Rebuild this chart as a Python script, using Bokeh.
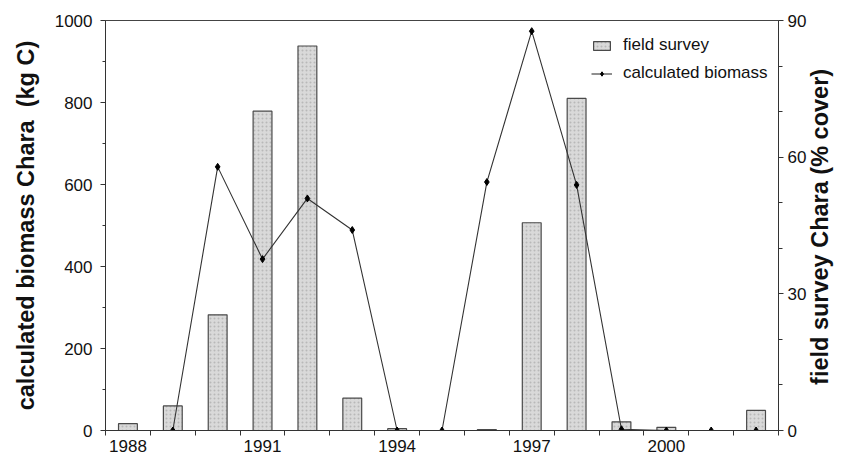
import math
import numpy as np
from bokeh.plotting import figure
from bokeh.models import (Range1d, LinearAxis, FixedTicker, Legend, LegendItem,
                          ColumnDataSource)
from bokeh.embed import file_html
from bokeh.resources import INLINE

# ---- data ----
years = [1988, 1989, 1990, 1991, 1992, 1993, 1994, 1995, 1996, 1997, 1998, 1999, 2000, 2001, 2002]
field_survey = [1.5, 5.4, 25.4, 70.1, 84.4, 7.1, 0.4, 0.0, 0.2, 45.6, 72.9, 1.9, 0.7, 0.0, 4.4]
biomass = [np.nan, 0, 643, 418, 566, 489, 0, 0, 606, 974, 599, 3, 0, 0, 0]

x_label_years = [1988, 1991, 1994, 1997, 2000]
left_ticks = [0, 200, 400, 600, 800, 1000]
left_minor = [100, 300, 500, 700, 900]
right_ticks = [0, 30, 60, 90]
right_minor = [10, 20, 40, 50, 70, 80]
left_title = "calculated biomass Chara \u00a0(kg C)"
right_title = "field survey Chara (% cover)"

FONT = "Liberation Sans"
INK = "#111111"
TITLE_SIZE = "23.5px"

X0, X1 = 1987.5, 2002.5
FRAME_L, FRAME_R = 105, 782

src_bar = ColumnDataSource(dict(x=years, top=field_survey))
src_line = ColumnDataSource(dict(x=np.array(years, dtype=float), y=np.array(biomass, dtype=float)))

p = figure(width=849, height=455, output_backend="svg", toolbar_location=None,
           x_range=Range1d(X0, X1), y_range=Range1d(0, 1000),
           min_border_left=FRAME_L, min_border_right=849 - FRAME_R,
           min_border_top=20, min_border_bottom=25)
p.extra_y_ranges = {"cover": Range1d(0, 90)}
p.xgrid.visible = False
p.ygrid.visible = False
p.outline_line_color = "#444444"
p.outline_line_width = 1
p.background_fill_color = "white"
p.border_fill_color = "white"

bars = p.vbar(x="x", top="top", bottom=0, width=0.42, source=src_bar, y_range_name="cover",
              fill_color="#d9d9d9", line_color="#4a4a4a", line_width=1.2,
              hatch_pattern="dot", hatch_color="#b8b8b8", hatch_scale=4, hatch_weight=0.8)
line = p.line(x="x", y="y", source=src_line, line_color="#333333", line_width=1.1)
pts = p.scatter(x="x", y="y", source=src_line, marker="diamond", size=7,
                fill_color="black", line_color="black")

# bottom axis
xa = p.xaxis[0]
xa.ticker = FixedTicker(ticks=x_label_years, minor_ticks=[X0 + i for i in range(16)])
xa.major_tick_out = 0
xa.major_tick_in = 0
xa.minor_tick_out = 5
xa.minor_tick_in = 0
xa.major_label_standoff = 4
xa.major_label_text_font = FONT
xa.major_label_text_font_size = "17px"
xa.major_label_text_color = INK
xa.axis_line_color = "#333333"
xa.minor_tick_line_color = "#333333"

# left axis
ya = p.yaxis[0]
ya.ticker = FixedTicker(ticks=left_ticks, minor_ticks=left_minor)
ya.major_tick_out = 5
ya.major_tick_in = 0
ya.minor_tick_out = 3
ya.minor_tick_in = 0
ya.major_label_standoff = 8
ya.major_label_text_font = FONT
ya.major_label_text_font_size = "17px"
ya.major_label_text_color = INK
ya.axis_line_color = "#333333"
ya.major_tick_line_color = "#333333"
ya.minor_tick_line_color = "#333333"
ya.axis_label = left_title
ya.axis_label_text_font = FONT
ya.axis_label_text_font_size = TITLE_SIZE
ya.axis_label_text_font_style = "bold"
ya.axis_label_text_color = INK
ya.axis_label_standoff = 13

# right axis (ticks + numbers)
ra = LinearAxis(y_range_name="cover",
                ticker=FixedTicker(ticks=right_ticks, minor_ticks=right_minor))
ra.major_tick_out = 5
ra.major_tick_in = 0
ra.minor_tick_out = 4
ra.minor_tick_in = 0
ra.major_label_standoff = 4
ra.major_label_text_font = FONT
ra.major_label_text_font_size = "17px"
ra.major_label_text_color = INK
ra.axis_line_color = "#333333"
ra.major_tick_line_color = "#333333"
ra.minor_tick_line_color = "#333333"
p.add_layout(ra, "right")

# right axis title, reading bottom-to-top like the reference: drawn as the
# single (rotated) tick label of an outer, line-less axis on the same range
title_anchor = 10
rt = LinearAxis(y_range_name="cover", ticker=FixedTicker(ticks=[title_anchor], minor_ticks=[]),
                major_label_overrides={title_anchor: right_title})
rt.major_label_orientation = math.pi / 2
rt.axis_line_color = None
rt.major_tick_line_color = None
rt.minor_tick_line_color = None
rt.major_tick_out = 0
rt.major_tick_in = 0
rt.major_label_standoff = 11
rt.major_label_text_font = FONT
rt.major_label_text_font_size = TITLE_SIZE
rt.major_label_text_font_style = "bold"
rt.major_label_text_color = INK
p.add_layout(rt, "right")

legend = Legend(items=[LegendItem(label="field survey", renderers=[bars]),
                       LegendItem(label="calculated biomass", renderers=[line, pts])],
                location=(486, 347), padding=0, margin=0, spacing=8,
                glyph_width=21, glyph_height=11, label_height=20, label_standoff=11,
                label_text_font=FONT, label_text_font_size="17px",
                label_text_color=INK,
                border_line_color=None, background_fill_alpha=0)
p.add_layout(legend, "center")

open("out.html", "w").write(file_html(p, INLINE))
